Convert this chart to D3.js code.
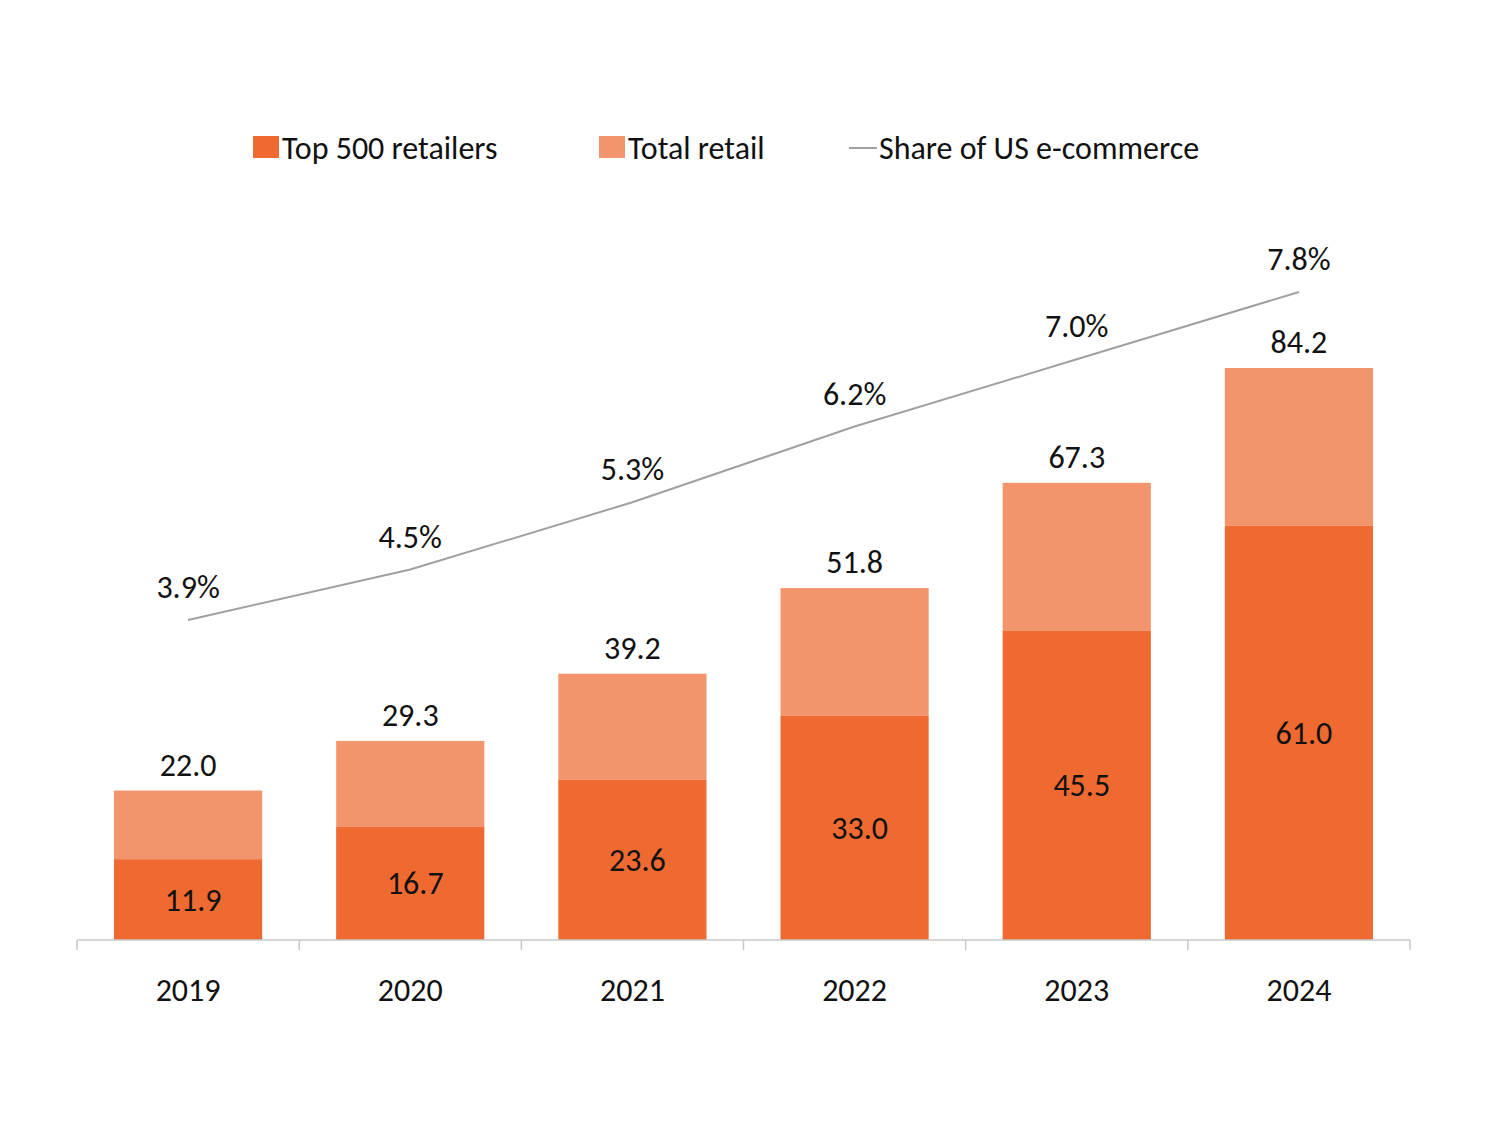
<!DOCTYPE html>
<html>
<head>
<meta charset="utf-8">
<script src="https://cdn.jsdelivr.net/npm/d3@7"></script>
<style>
body { margin: 0; background: #fff; }
text { font-family: Carlito, "Open Sans", "Liberation Sans", sans-serif; fill: #111; }
</style>
</head>
<body>
<svg id="chart" width="1503" height="1143"></svg>
<script>
var years = ["2019", "2020", "2021", "2022", "2023", "2024"];
var top500 = [11.9, 16.7, 23.6, 33.0, 45.5, 61.0];
var total = [22.0, 29.3, 39.2, 51.8, 67.3, 84.2];
var share = [3.9, 4.5, 5.3, 6.2, 7.0, 7.8];

var dark = "#EE6A31", light = "#F2956D";
var svg = d3.select("#chart");

var x = d3.scaleBand().domain(years).range([77, 1410]).paddingInner(0.333).paddingOuter(0.1665);
var y = d3.scaleLinear().domain([0, 84.2]).range([940, 368]);
var yShare = d3.scaleLinear().domain([3.9, 7.8]).range([620, 292]);

var g = svg.append("g");
years.forEach(function (yr, i) {
    g.append("rect").attr("x", x(yr)).attr("width", x.bandwidth())
        .attr("y", y(total[i])).attr("height", y(top500[i]) - y(total[i])).attr("fill", light);
    g.append("rect").attr("x", x(yr)).attr("width", x.bandwidth())
        .attr("y", y(top500[i])).attr("height", y(0) - y(top500[i])).attr("fill", dark);
    var cx = x(yr) + x.bandwidth() / 2;
    g.append("text").attr("x", cx + 5).attr("y", (y(top500[i]) + y(0)) / 2 + 11)
        .attr("text-anchor", "middle").attr("font-size", 32).text(top500[i].toFixed(1));
    g.append("text").attr("x", cx).attr("y", y(total[i]) - 15)
        .attr("text-anchor", "middle").attr("font-size", 32).text(total[i].toFixed(1));
    g.append("text").attr("x", cx).attr("y", 1001)
        .attr("text-anchor", "middle").attr("font-size", 32).text(yr);
    g.append("text").attr("x", cx).attr("y", yShare(share[i]) - 22)
        .attr("text-anchor", "middle").attr("font-size", 32).text(share[i].toFixed(1) + "%");
});

// axis
var axis = svg.append("g").attr("stroke", "#c8c8c8").attr("stroke-width", 1.5);
axis.append("line").attr("x1", 77).attr("x2", 1410).attr("y1", 940).attr("y2", 940);
var step = x.step();
d3.range(years.length + 1).forEach(function (k) {
    var tx = 77 + k * (1333 / years.length);
    axis.append("line").attr("x1", tx).attr("x2", tx).attr("y1", 940).attr("y2", 950);
});

var line = d3.line()
    .x(function (d, i) { return x(years[i]) + x.bandwidth() / 2; })
    .y(function (d) { return yShare(d); });
svg.append("path").datum(share).attr("d", line).attr("fill", "none")
    .attr("stroke", "#A0A0A0").attr("stroke-width", 2);

// legend
var leg = svg.append("g");
leg.append("rect").attr("x", 253).attr("y", 136).attr("width", 26).attr("height", 22).attr("fill", dark);
leg.append("text").attr("x", 282).attr("y", 159).attr("font-size", 32).text("Top 500 retailers");
leg.append("rect").attr("x", 599).attr("y", 136).attr("width", 26).attr("height", 22).attr("fill", light);
leg.append("text").attr("x", 628).attr("y", 159).attr("font-size", 32).text("Total retail");
leg.append("line").attr("x1", 849).attr("x2", 877).attr("y1", 148).attr("y2", 148)
    .attr("stroke", "#A0A0A0").attr("stroke-width", 2);
leg.append("text").attr("x", 879).attr("y", 159).attr("font-size", 32).text("Share of US e-commerce");
</script>
</body>
</html>
